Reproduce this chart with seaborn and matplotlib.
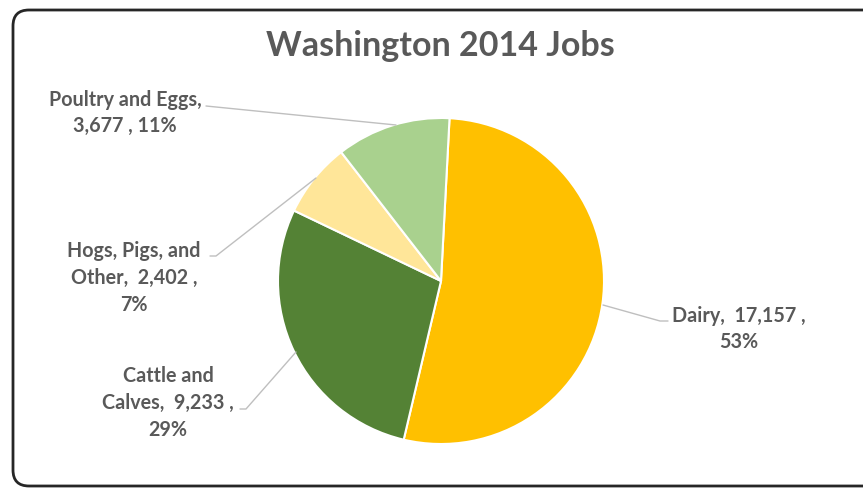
import matplotlib
matplotlib.use("Agg")
import matplotlib.pyplot as plt
from matplotlib.patches import FancyBboxPatch
import seaborn as sns

# Washington 2014 livestock-sector jobs
categories = ["Dairy", "Cattle and Calves", "Hogs, Pigs, and Other", "Poultry and Eggs"]
jobs = [17157, 9233, 2402, 3677]
pct_labels = ["53%", "29%", "7%", "11%"]
colors = ["#FFC000", "#548235", "#FFE699", "#A9D18E"]

sns.set_theme(style="white")
plt.rcParams["font.family"] = ["Lato", "DejaVu Sans"]

W, H = 863, 488
fig = plt.figure(figsize=(W / 100, H / 100), dpi=100)
fig.patch.set_facecolor("white")
ax = fig.add_axes([0, 0, 1, 1])
ax.set_xlim(0, W)
ax.set_ylim(0, H)
ax.axis("off")


def fy(y):
    # convert top-down pixel row to axes y
    return H - y


# chart frame with rounded corners
frame = FancyBboxPatch((13, fy(486)), 880, 476,
                       boxstyle="round,pad=0,rounding_size=16",
                       linewidth=2.0, edgecolor="#262626", facecolor="white",
                       zorder=0)
ax.add_patch(frame)

cx, cy, r = 441, fy(281), 163
ax.pie(jobs, colors=colors, startangle=87, counterclock=False,
       center=(cx, cy), radius=r, frame=True,
       wedgeprops=dict(edgecolor="white", linewidth=1.5))
ax.set_xlim(0, W)
ax.set_ylim(0, H)
ax.set_aspect("equal")
ax.axis("off")

ax.text(440, fy(46), "Washington 2014 Jobs", ha="center", va="center",
        fontsize=24.5, fontweight="bold", color="#595959")

txt_color = "#595959"
line_color = "#BFBFBF"
fs = 14.2

labels = [
    (f"{categories[0]},  {jobs[0]:,} ,\n{pct_labels[0]}", 739, 329),
    (f"Cattle and\nCalves,  {jobs[1]:,} ,\n{pct_labels[1]}", 168, 403),
    (f"Hogs, Pigs, and\nOther,  {jobs[2]:,} ,\n{pct_labels[2]}", 134, 278),
    (f"{categories[3]},\n{jobs[3]:,} , {pct_labels[3]}", 125, 113),
]
for text, x, y in labels:
    ax.text(x, fy(y), text, ha="center", va="center", fontsize=fs,
            fontweight="bold", color=txt_color, linespacing=1.42)

leaders = [
    [(603, 305), (660, 321), (668, 321)],
    [(240, 409), (246, 409), (296, 352)],
    [(210, 256), (216, 256), (316, 178)],
    [(206, 106), (396, 125)],
]
for pts in leaders:
    xs = [p[0] for p in pts]
    ys = [fy(p[1]) for p in pts]
    ax.plot(xs, ys, color=line_color, linewidth=1.0, zorder=1)

fig.savefig("out.png", dpi=100, facecolor="white")
